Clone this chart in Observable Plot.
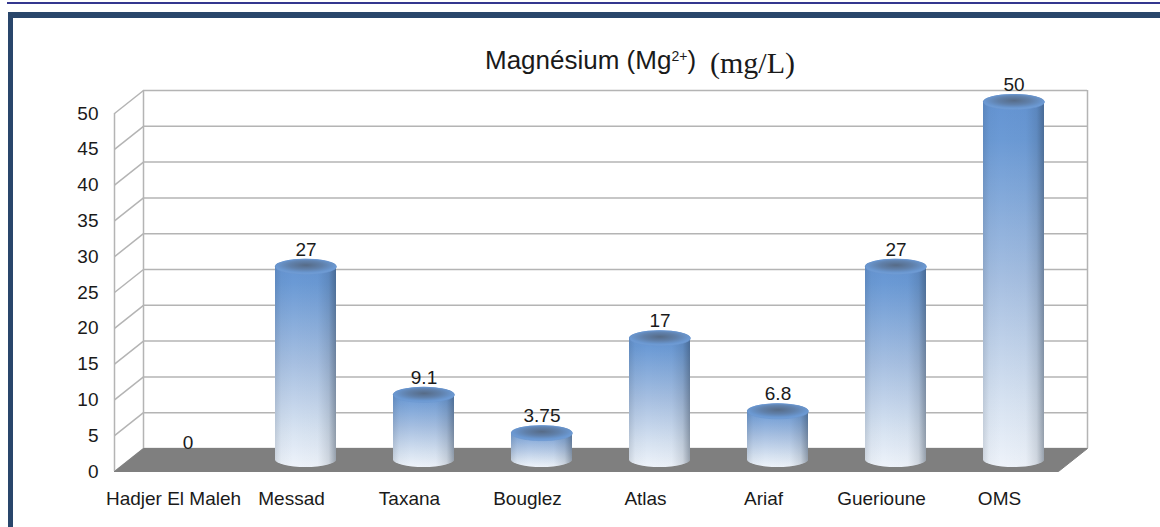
<!DOCTYPE html>
<html>
<head>
<meta charset="utf-8">
<script src="https://cdn.jsdelivr.net/npm/d3@7"></script>
<script src="https://cdn.jsdelivr.net/npm/@observablehq/plot@0.6"></script>
<style>
  html, body { margin: 0; padding: 0; background: #fff; width: 1160px; height: 527px; overflow: hidden; }
  body { position: relative; font-family: "Liberation Sans", Arial, sans-serif; }
  #chart { position: absolute; left: 0; top: 0; width: 1160px; height: 527px; }
  #topline { position: absolute; left: 7px; top: 2px; width: 1153px; height: 2px; background: #34378f; z-index: 2; }
  #frameTop { position: absolute; left: 8px; top: 12px; right: 0; height: 6px; background: #29466b; z-index: 2; }
  #frameLeft { position: absolute; left: 8px; top: 12px; width: 5px; bottom: 0; background: #29466b; z-index: 2; }
  #title { position: absolute; left: 485px; top: 46px; white-space: nowrap; font-size: 26px; line-height: 26px; color: #1a1a1a; z-index: 2; }
  #title sup { font-size: 14px; line-height: 0; vertical-align: 8px; }
  #title .unit { font-family: "Liberation Serif", "Times New Roman", serif; font-size: 30px; margin-left: 14px; position: relative; top: 4px; }
</style>
</head>
<body>
<div id="chart"></div>
<div id="topline"></div>
<div id="frameTop"></div>
<div id="frameLeft"></div>
<div id="title">Magnésium (Mg<sup>2+</sup>)<span class="unit">(mg/L)</span></div>
<script>
// ---- data ----
const categories = ["Hadjer El Maleh", "Messad", "Taxana", "Bouglez", "Atlas", "Ariaf", "Guerioune", "OMS"];
const values = [0, 27, 9.1, 3.75, 17, 6.8, 27, 50];
const yTicks = [0, 5, 10, 15, 20, 25, 30, 35, 40, 45, 50];

// ---- layout (pixels) ----
const W = 1160, H = 527;
const mLeft = 114, mRight = 102, mTop = 113, mBottom = 56;
const depthPx = 29, depthPy = 23;          // 3D depth offset
const pxPerX = (W - mLeft - mRight) / categories.length;
const pxPerY = (H - mTop - mBottom) / 50;
const DX = depthPx / pxPerX;                // depth in data units
const DY = depthPy / pxPerY;
const RX = 30.5, RY = 7.5;                  // cylinder radii (px)
const BW = RX / pxPerX;                     // half width in x units
const N = categories.length;

const rows = categories.map((c, i) => ({cat: c, value: values[i], pos: i + 0.5 + DX / 2}));
const bars = rows.filter(d => d.value > 0);

const floor = [
  {x: 0, y: 0}, {x: N, y: 0}, {x: N + DX, y: DY}, {x: DX, y: DY}, {x: 0, y: 0}
];

const ellipse = {
  draw(ctx) {
    const k = 0.5523;
    ctx.moveTo(RX, 0);
    ctx.bezierCurveTo(RX, RY * k, RX * k, RY, 0, RY);
    ctx.bezierCurveTo(-RX * k, RY, -RX, RY * k, -RX, 0);
    ctx.bezierCurveTo(-RX, -RY * k, -RX * k, -RY, 0, -RY);
    ctx.bezierCurveTo(RX * k, -RY, RX, -RY * k, RX, 0);
    ctx.closePath();
  }
};

const grid = "#b4b4b4";

const plot = Plot.plot({
  width: W,
  height: H,
  marginLeft: mLeft,
  marginRight: mRight,
  marginTop: mTop,
  marginBottom: mBottom,
  style: {background: "transparent", fontSize: "19px", fontFamily: "'Liberation Sans', Arial, sans-serif", color: "#1a1a1a", overflow: "visible"},
  x: {
    domain: [0, N],
    ticks: categories.map((c, i) => i + 0.5),
    tickFormat: t => categories[Math.floor(t)],
    tickSize: 0,
    tickPadding: 20,
    label: null
  },
  y: {
    domain: [0, 50],
    ticks: yTicks,
    tickSize: 0,
    tickPadding: 16,
    label: null
  },
  marks: [
    // back wall gridlines
    Plot.ruleY(yTicks, {y: d => d + DY, x1: () => DX, x2: () => N + DX, stroke: grid, strokeWidth: 1.5}),
    // side wall diagonals
    Plot.link(yTicks, {x1: () => 0, y1: d => d, x2: () => DX, y2: d => d + DY, stroke: grid, strokeWidth: 1.5}),
    // verticals
    Plot.ruleX([0], {x: d => d, y1: () => 0, y2: () => 50, stroke: grid, strokeWidth: 1.5}),
    Plot.ruleX([DX, N + DX], {x: d => d, y1: () => DY, y2: () => 50 + DY, stroke: grid, strokeWidth: 1.5}),
    // floor
    Plot.line(floor, {x: "x", y: "y", fill: "#7f7f7f", stroke: "#7f7f7f", strokeWidth: 1}),
    // cylinder bodies
    Plot.rect(bars, {x1: d => d.pos - BW, x2: d => d.pos + BW, y1: () => DY / 2, y2: d => d.value + DY / 2,
      insetTop: -RY, insetBottom: -RY, rx: RX, ry: RY, fill: "url(#bodyGrad)"}),
    Plot.rect(bars, {x1: d => d.pos - BW, x2: d => d.pos + BW, y1: () => DY / 2, y2: d => d.value + DY / 2,
      insetTop: -RY, insetBottom: -RY, rx: RX, ry: RY, fill: "url(#shadeGrad)"}),
    // cylinder caps
    Plot.dot(bars, {x: "pos", y: d => d.value + DY / 2, symbol: ellipse, fill: "url(#capGrad)", stroke: "#6a96cf", strokeWidth: 0.6}),
    // value labels
    Plot.text(rows, {x: "pos", y: d => d.value + DY / 2, text: d => String(d.value), dy: -17, fontSize: 19, fill: "#1a1a1a"})
  ]
});

const svg = d3.select(plot);
const defs = svg.insert("defs", ":first-child");
const body = defs.append("linearGradient").attr("id", "bodyGrad").attr("x1", 0).attr("y1", 0).attr("x2", 0).attr("y2", 1);
[[0, "#6393d2"], [0.12, "#6b9ad5"], [0.5, "#a6bfe1"], [0.82, "#d6e2f1"], [1, "#eef3fa"]].forEach(([o, c]) =>
  body.append("stop").attr("offset", o).attr("stop-color", c));
const shade = defs.append("linearGradient").attr("id", "shadeGrad").attr("x1", 0).attr("y1", 0).attr("x2", 1).attr("y2", 0);
[[0, 0.14], [0.1, 0.03], [0.3, 0], [0.7, 0.02], [0.88, 0.14], [1, 0.4]].forEach(([o, a]) =>
  shade.append("stop").attr("offset", o).attr("stop-color", "#1c2a3a").attr("stop-opacity", a));
const cap = defs.append("radialGradient").attr("id", "capGrad").attr("cx", 0.5).attr("cy", 0.4).attr("r", 0.6);
[[0, "#566b87"], [0.45, "#6080aa"], [0.8, "#6a97d0"], [1, "#74a0d8"]].forEach(([o, c]) =>
  cap.append("stop").attr("offset", o).attr("stop-color", c));

document.getElementById("chart").appendChild(plot);
</script>
</body>
</html>
